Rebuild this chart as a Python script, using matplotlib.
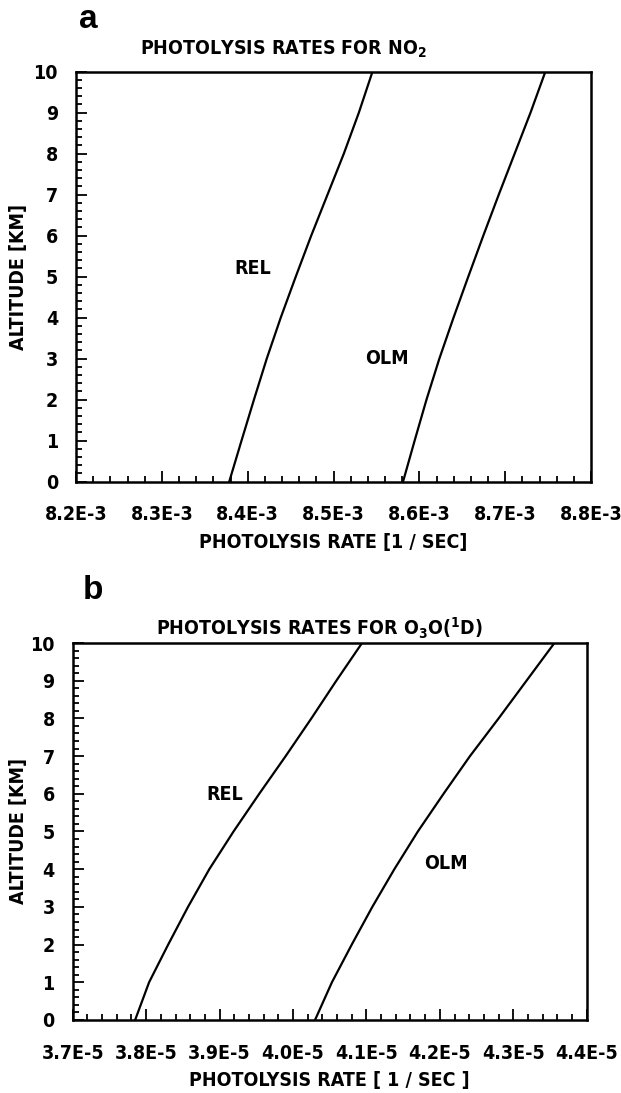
import numpy as np
import matplotlib
matplotlib.use("Agg")
import matplotlib.pyplot as plt
from matplotlib import font_manager as fm
from matplotlib.ticker import MultipleLocator

# look for a narrow / condensed bold face
pick = None
for f in fm.fontManager.ttflist:
    tag = (f.name + " " + str(f.stretch)).lower()
    if ("narrow" in tag or "condensed" in tag) and f.weight in ("bold", 700):
        pick = f
        break

if pick is not None:
    FAM = pick.name
    STRETCH = pick.stretch if isinstance(pick.stretch, str) else "condensed"
else:
    FAM = "Liberation Sans"
    STRETCH = "normal"
fs = 14

plt.rcParams["font.family"] = [FAM, "DejaVu Sans"]
plt.rcParams["font.weight"] = "bold"
plt.rcParams["font.stretch"] = STRETCH
plt.rcParams["mathtext.fontset"] = "custom"
pat = FAM + ":weight=bold:stretch=" + STRETCH
plt.rcParams["mathtext.rm"] = pat
plt.rcParams["mathtext.it"] = pat
plt.rcParams["mathtext.bf"] = pat
plt.rcParams["mathtext.default"] = "rm"

# altitude grid [km]
alt = [0, 1, 2, 3, 4, 5, 6, 7, 8, 9, 10]

# NO2 photolysis rates [1/s]
no2_rel = [8.3785e-3, 8.3928e-3, 8.4073e-3, 8.4222e-3, 8.4385e-3, 8.4560e-3,
           8.4740e-3, 8.4930e-3, 8.5120e-3, 8.5295e-3, 8.5454e-3]
no2_olm = [8.5810e-3, 8.5945e-3, 8.6083e-3, 8.6233e-3, 8.6398e-3, 8.6570e-3,
           8.6745e-3, 8.6925e-3, 8.7110e-3, 8.7295e-3, 8.7468e-3]

# O3 -> O(1D) photolysis rates [1/s]
o1d_rel = [3.785e-5, 3.804e-5, 3.830e-5, 3.857e-5, 3.886e-5, 3.919e-5,
           3.954e-5, 3.990e-5, 4.025e-5, 4.059e-5, 4.094e-5]
o1d_olm = [4.030e-5, 4.053e-5, 4.080e-5, 4.108e-5, 4.138e-5, 4.170e-5,
           4.205e-5, 4.241e-5, 4.280e-5, 4.318e-5, 4.356e-5]

no2_ticks = [8.2e-3, 8.3e-3, 8.4e-3, 8.5e-3, 8.6e-3, 8.7e-3, 8.8e-3]
no2_ticklabels = ["8.2E-3", "8.3E-3", "8.4E-3", "8.5E-3", "8.6E-3", "8.7E-3", "8.8E-3"]
o1d_ticks = [3.7e-5, 3.8e-5, 3.9e-5, 4.0e-5, 4.1e-5, 4.2e-5, 4.3e-5, 4.4e-5]
o1d_ticklabels = ["3.7E-5", "3.8E-5", "3.9E-5", "4.0E-5", "4.1E-5", "4.2E-5", "4.3E-5", "4.4E-5"]

fig = plt.figure(figsize=(6.21, 10.93), dpi=100)
ax1 = fig.add_axes([0.1224, 0.5593, 0.8293, 0.3751])
ax2 = fig.add_axes([0.1171, 0.0668, 0.8277, 0.3449])


def style(ax, xt, xtl, minor, xlabel, ylab_x):
    ax.set_ylim(0, 10)
    ax.set_xlim(xt[0], xt[-1])
    ax.set_xticks(xt)
    ax.set_xticklabels(xtl)
    ax.xaxis.set_minor_locator(MultipleLocator(minor))
    ax.set_yticks(range(0, 11))
    ax.yaxis.set_minor_locator(MultipleLocator(0.2))
    ax.tick_params(which="both", direction="in", top=False, right=False,
                   width=1.3, labelsize=fs)
    ax.tick_params(which="major", length=8)
    ax.tick_params(which="minor", length=4.5)
    ax.tick_params(axis="x", pad=17)
    ax.tick_params(axis="y", pad=13)
    for s in ax.spines.values():
        s.set_linewidth(1.8)
    ax.set_xlabel(xlabel, fontsize=fs, fontweight="bold", labelpad=6)
    ax.set_ylabel("ALTITUDE [KM]", fontsize=fs, fontweight="bold")
    ax.yaxis.set_label_coords(ylab_x, 0.5)


ax1.plot(no2_rel, alt, color="black", lw=1.6)
ax1.plot(no2_olm, alt, color="black", lw=1.6)
style(ax1, no2_ticks, no2_ticklabels, 0.02e-3, "PHOTOLYSIS RATE [1 / SEC]", -0.093)
ax1.text(8.406e-3, 5.2, "REL", fontsize=fs, fontweight="bold", ha="center", va="center")
ax1.text(8.5626e-3, 3.0, "OLM", fontsize=fs, fontweight="bold", ha="center", va="center")

ax2.plot(o1d_rel, alt, color="black", lw=1.6)
ax2.plot(o1d_olm, alt, color="black", lw=1.6)
style(ax2, o1d_ticks, o1d_ticklabels, 0.02e-5, "PHOTOLYSIS RATE [ 1 / SEC ]", -0.087)
ax2.text(3.9066e-5, 5.97, "REL", fontsize=fs, fontweight="bold", ha="center", va="center")
ax2.text(4.2085e-5, 4.16, "OLM", fontsize=fs, fontweight="bold", ha="center", va="center")

fig.text(0.142, 0.982, "a", fontsize=24, fontweight="bold", family="Liberation Sans",
         fontstretch="normal", ha="center", va="center")
fig.text(0.150, 0.460, "b", fontsize=24, fontweight="bold", family="Liberation Sans",
         fontstretch="normal", ha="center", va="center")
fig.text(0.456, 0.955, r"PHOTOLYSIS RATES FOR NO$_2$", fontsize=fs,
         fontweight="bold", ha="center", va="center")
fig.text(0.514, 0.425, r"PHOTOLYSIS RATES FOR O$_3$O($^1$D)", fontsize=fs,
         fontweight="bold", ha="center", va="center")

fig.savefig("out.png", dpi=100)
